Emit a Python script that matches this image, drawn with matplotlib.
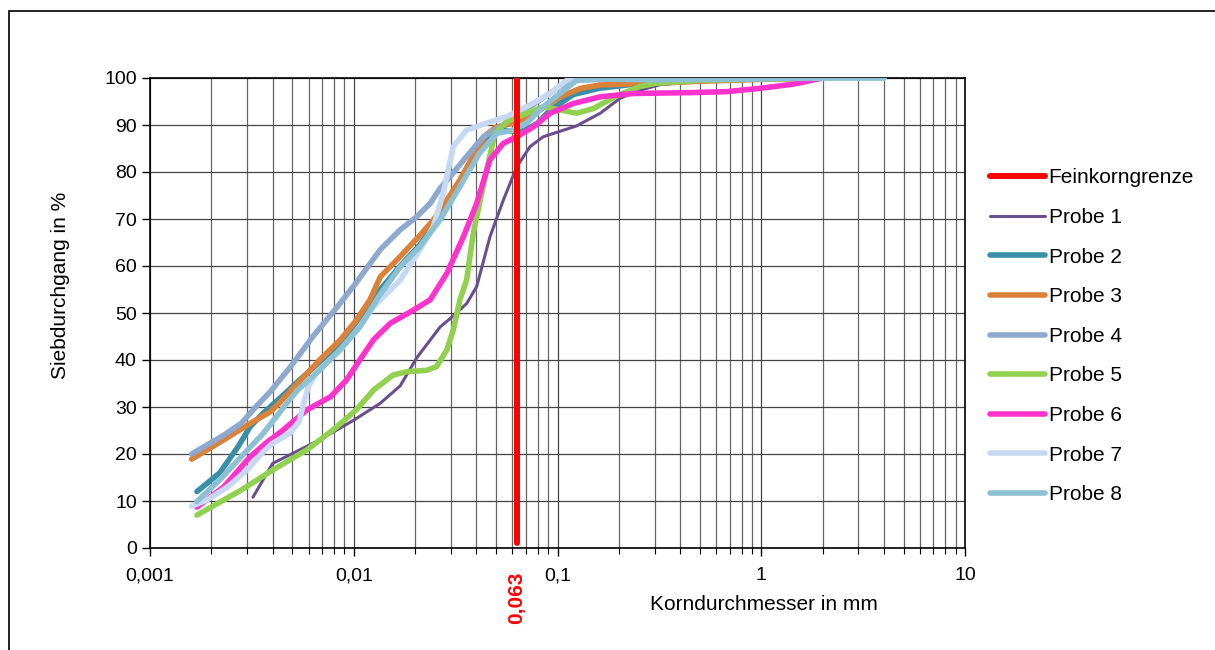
"""Korngrößenverteilung (Sieblinien) der Proben 1-8 mit Feinkorngrenze."""
import matplotlib
matplotlib.use("Agg")
import matplotlib.pyplot as plt
from matplotlib.patches import Rectangle
from matplotlib.ticker import FixedLocator, LogLocator, NullFormatter

plt.rcParams['font.family'] = ['Liberation Sans', 'DejaVu Sans']

# ---- Daten ----
grenze_x = [0.063, 0.063]
grenze_y = [1, 100]

p1_x = [0.0032, 0.004, 0.005, 0.0068, 0.01, 0.0135, 0.0169, 0.0204, 0.0265, 0.0297, 0.0358, 0.0401,
        0.0466, 0.0542, 0.0631, 0.0733, 0.0851, 0.107, 0.124, 0.162, 0.203, 0.254, 0.32, 0.5, 1.0, 2.0]
p1_y = [10.8, 18, 20.1, 23, 27.2, 30.8, 34.5, 40.5, 47, 48.8, 52, 55.6,
        66.2, 74, 81.1, 85.4, 87.5, 88.9, 89.8, 92.5, 95.7, 97.4, 98.6, 99.2, 99.6, 100]

p2_x = [0.0017, 0.0022, 0.0027, 0.0031, 0.0036, 0.0045, 0.0055, 0.0068, 0.0086, 0.0107, 0.0135, 0.0169,
        0.0211, 0.0275, 0.0332, 0.040, 0.047, 0.054, 0.063, 0.070, 0.080, 0.092, 0.120, 0.160, 0.200,
        0.300, 0.500, 1.0, 2.0]
p2_y = [12, 16, 21.5, 25.8, 28.7, 32.5, 36, 39.5, 43.5, 47.5, 55, 60,
        64.5, 71.5, 78, 84.5, 88, 88.9, 88.6, 89, 90.4, 93.2, 96.5, 97.8, 98.3,
        99.2, 99.6, 100, 100]

p3_x = [0.0016, 0.0023, 0.0031, 0.0039, 0.0043, 0.0053, 0.0068, 0.0086, 0.0103, 0.012, 0.0135, 0.0169,
        0.0211, 0.0246, 0.0286, 0.0332, 0.040, 0.0449, 0.0497, 0.0631, 0.082, 0.1028, 0.13, 0.16, 0.25,
        0.5, 1.0, 2.0]
p3_y = [18.9, 23, 26.5, 29, 30.8, 35, 40, 44.3, 48.5, 52.8, 57.7, 62,
        66.5, 69.8, 74, 78.3, 84.7, 88, 89.5, 90.6, 93.2, 96, 97.8, 98.5, 98.8,
        99.3, 99.7, 100]

p4_x = [0.0016, 0.0023, 0.0028, 0.0033, 0.0039, 0.0049, 0.0063, 0.0083, 0.0103, 0.0135, 0.0169, 0.0204,
        0.0237, 0.0265, 0.0297, 0.0358, 0.0433, 0.0522, 0.0655, 0.082, 0.1028, 0.124, 0.2, 0.5, 1.0, 2.0]
p4_y = [20, 24, 26.5, 30, 33.3, 38.6, 45, 51.3, 56.5, 63.5, 67.7, 70.5,
        73.3, 76.5, 79, 83.3, 87.5, 89.6, 92.5, 95.3, 98.2, 99.6, 99.8, 99.8, 100, 100]

p5_x = [0.0017, 0.0028, 0.004, 0.0059, 0.0079, 0.0103, 0.0125, 0.0156, 0.0182, 0.0228, 0.0255, 0.0286,
        0.0308, 0.0332, 0.0358, 0.0386, 0.0449, 0.0493, 0.0563, 0.0706, 0.0851, 0.1028, 0.124, 0.15,
        0.195, 0.254, 0.307, 0.5, 1.0, 2.0]
p5_y = [7, 12.3, 16.6, 20.9, 25.1, 29.4, 33.6, 36.8, 37.5, 37.8, 38.6, 42.1,
        46.4, 52.8, 57, 67, 80.4, 88.2, 90.7, 92.5, 93.9, 93.2, 92.5, 93.5,
        96.2, 98.2, 98.9, 99.5, 99.8, 100]

p6_x = [0.0017, 0.0023, 0.0031, 0.0037, 0.0045, 0.0059, 0.0077, 0.0092, 0.0107, 0.0125, 0.0151, 0.0196,
        0.0237, 0.0286, 0.0345, 0.0401, 0.0466, 0.0542, 0.0631, 0.0761, 0.0919, 0.12, 0.162, 0.236,
        0.464, 0.676, 0.986, 1.44, 2.0]
p6_y = [8.7, 13, 19.4, 22.3, 25.1, 29.4, 32.2, 35.7, 40, 44.3, 47.8, 50.6,
        52.8, 58.4, 66.2, 73.3, 82.6, 86.1, 87.5, 89.6, 92.5, 94.6, 96, 96.7,
        96.9, 97.1, 97.8, 98.7, 100]

p7_x = [0.0016, 0.0019, 0.0024, 0.003, 0.0036, 0.004, 0.0049, 0.0054, 0.0057, 0.006, 0.0066, 0.0086,
        0.0107, 0.0125, 0.0169, 0.0211, 0.0246, 0.0275, 0.0308, 0.0358, 0.0449, 0.0563, 0.0706, 0.0919,
        0.111, 0.124, 0.3, 1.0, 4.0]
p7_y = [8.9, 10.2, 13, 16.6, 20.5, 22.3, 24.5, 27, 31, 34.5, 37.5, 42.1,
        47.1, 51.3, 57, 63.4, 68.4, 75.5, 85.4, 88.9, 90.4, 91.8, 93.9, 96.7,
        99.5, 100, 100, 100, 100]

p8_x = [0.0017, 0.0022, 0.0028, 0.0036, 0.0045, 0.0053, 0.0068, 0.0086, 0.0107, 0.0135, 0.0169, 0.0211,
        0.0265, 0.0332, 0.0414, 0.0503, 0.0603, 0.0706, 0.0851, 0.1028, 0.124, 0.162, 0.3, 1.0, 2.0, 4.0]
p8_y = [9.9, 14.5, 19.4, 24.4, 29.8, 33.6, 37.8, 42.3, 47, 54, 59.8, 64.1,
        69.8, 76.9, 84, 88.2, 88.9, 90.4, 93.9, 96.7, 99.5, 99.8, 99.6, 99.8, 100, 100]

proben = [
    ('Probe 1', p1_x, p1_y, '#6A4F8F', 2.2),
    ('Probe 2', p2_x, p2_y, '#3A8FA8', 4.0),
    ('Probe 3', p3_x, p3_y, '#DB8138', 4.0),
    ('Probe 4', p4_x, p4_y, '#8FA8CD', 4.0),
    ('Probe 5', p5_x, p5_y, '#92D050', 4.0),
    ('Probe 6', p6_x, p6_y, '#FF33CC', 4.0),
    ('Probe 7', p7_x, p7_y, '#C6D9F1', 4.0),
    ('Probe 8', p8_x, p8_y, '#8CC0D3', 4.0),
]

x_ticks = [0.001, 0.01, 0.1, 1, 10]
x_labels = ['0,001', '0,01', '0,1', '1', '10']
y_ticks = list(range(0, 101, 10))

fig = plt.figure(figsize=(12.15, 6.5), dpi=100)
ax = fig.add_axes([150 / 1215, 1 - 548 / 650, 815 / 1215, 470 / 650])

# Feinkorngrenze zuerst (Legende), aber oben gezeichnet
ax.plot(grenze_x, grenze_y, color='#FF0000', linewidth=4.3, solid_capstyle='round',
        label='Feinkorngrenze', zorder=10)
for name, xs, ys, col, lw in proben:
    ax.plot(xs, ys, color=col, linewidth=lw, label=name,
            solid_capstyle='round', solid_joinstyle='round', zorder=3)

ax.set_xscale('log')
ax.set_xlim(0.001, 10)
ax.set_ylim(0, 100)
ax.xaxis.set_major_locator(FixedLocator(x_ticks))
ax.set_xticklabels(x_labels)
ax.xaxis.set_minor_locator(LogLocator(base=10, subs=range(2, 10), numticks=20))
ax.xaxis.set_minor_formatter(NullFormatter())
ax.set_yticks(y_ticks)
ax.tick_params(axis='both', which='major', labelsize=14, length=6, width=1, direction='out')
ax.tick_params(axis='x', which='minor', length=4, width=0.8, direction='out')
ax.tick_params(axis='x', pad=8)
ax.grid(True, which='major', color='#444444', linewidth=0.9)
ax.grid(True, which='minor', axis='x', color='#666666', linewidth=0.9)
ax.set_axisbelow(True)
for sp in ax.spines.values():
    sp.set_color('black')
    sp.set_linewidth(1.2)

# Achsenbeschriftungen
fig.text(764 / 1215, 1 - 604 / 650, 'Korndurchmesser in mm', fontsize=15, ha='center', va='center')
fig.text(60 / 1215, 1 - 285 / 650, 'Siebdurchgang in %', fontsize=15, rotation=90,
         ha='center', va='center')
ax.text(0.063, -0.05, '0,063', transform=ax.get_xaxis_transform(), rotation=90,
        color='#FF0000', fontsize=15, fontweight='bold', ha='center', va='top')

ax.legend(loc='upper left', bbox_to_anchor=(982 / 1215, 1 - 160 / 650), bbox_transform=fig.transFigure,
          frameon=False, fontsize=15, handlelength=2.6, handletextpad=0.2, labelspacing=0.99,
          borderaxespad=0)

# äußerer Diagrammrahmen (rechts/unten abgeschnitten)
fig.patches.append(Rectangle((9 / 1215, -0.1), 1.2, 1.1 - 11 / 650, transform=fig.transFigure,
                             fill=False, edgecolor='black', linewidth=1.2))

fig.savefig('out.png', dpi=100)
plt.close()
